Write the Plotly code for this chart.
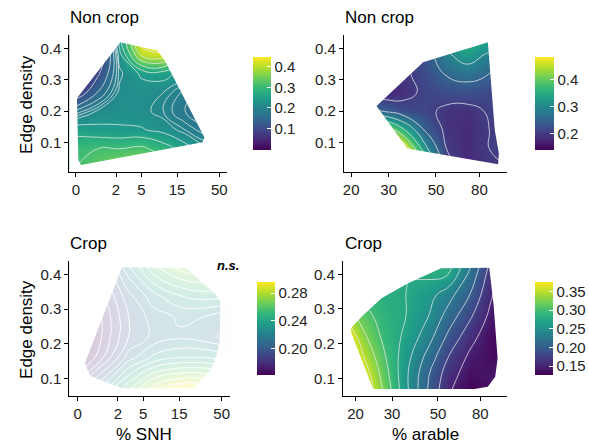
import numpy as np
import plotly.graph_objects as go

W, H = 589, 448

# ---------------- data ----------------
# Panel 1: Non crop ~ % SNH x Edge density
snh_x1 = [0, 0.8, 2.3, 5, 10, 19, 36]
ed_y1 = [0.02, 0.08, 0.14, 0.20, 0.26, 0.32, 0.38, 0.44]
z_nc_snh = [
    [0.31, 0.34, 0.37, 0.38, 0.33, 0.28, 0.24],
    [0.30, 0.31, 0.31, 0.32, 0.29, 0.25, 0.21],
    [0.255, 0.245, 0.24, 0.238, 0.225, 0.20, 0.18],
    [0.18, 0.212, 0.222, 0.218, 0.20, 0.175, 0.15],
    [0.07, 0.15, 0.215, 0.22, 0.21, 0.185, 0.165],
    [0.0, 0.10, 0.205, 0.24, 0.25, 0.22, 0.19],
    [0.0, 0.05, 0.22, 0.40, 0.42, 0.30, 0.23],
    [0.0, 0.03, 0.26, 0.47, 0.47, 0.35, 0.27],
]
hull_nc_snh_x = [2.38, 8.39, 10.47, 32.8, 31.3, 0.147, 0.068, 0.027]
hull_nc_snh_y = [0.420, 0.393, 0.361, 0.117, 0.101, 0.028, 0.044, 0.241]
levels_nc_snh = [0.11, 0.15, 0.175, 0.19, 0.20, 0.21, 0.235, 0.27, 0.31, 0.35, 0.39, 0.43]

# Panel 2: Non crop ~ % arable x Edge density
arable_x2 = [22, 28, 35, 45, 56, 70, 89, 110]
ed_y2 = [0.02, 0.08, 0.14, 0.20, 0.26, 0.32, 0.38, 0.44]
z_nc_arable = [
    [0.65, 0.62, 0.58, 0.40, 0.22, 0.18, 0.19, 0.20],
    [0.62, 0.57, 0.50, 0.31, 0.20, 0.18, 0.20, 0.21],
    [0.52, 0.46, 0.36, 0.24, 0.19, 0.18, 0.20, 0.21],
    [0.28, 0.25, 0.22, 0.21, 0.19, 0.185, 0.205, 0.21],
    [0.16, 0.17, 0.185, 0.21, 0.22, 0.225, 0.215, 0.20],
    [0.15, 0.17, 0.19, 0.22, 0.255, 0.27, 0.25, 0.21],
    [0.15, 0.16, 0.19, 0.23, 0.29, 0.33, 0.29, 0.23],
    [0.15, 0.15, 0.18, 0.25, 0.33, 0.38, 0.35, 0.29],
]
hull_nc_arable_x = [26.3, 43.5, 87.6, 94.4, 98.6, 97.9, 40.1, 36.6]
hull_nc_arable_y = [0.2165, 0.356, 0.420, 0.140, 0.0655, 0.031, 0.076, 0.0815]
levels_nc_arable = [0.20, 0.25, 0.30, 0.35, 0.40, 0.45]

# Panel 3: Crop ~ % SNH x Edge density (n.s.)
snh_x3 = [0, 1, 3, 7, 15, 32, 66]
ed_y3 = [0.04, 0.10, 0.16, 0.22, 0.28, 0.34, 0.40, 0.46]
z_c_snh = [
    [0.21, 0.24, 0.27, 0.30, 0.32, 0.32, 0.31],
    [0.18, 0.21, 0.245, 0.27, 0.28, 0.28, 0.27],
    [0.15, 0.18, 0.215, 0.233, 0.24, 0.24, 0.235],
    [0.14, 0.172, 0.20, 0.213, 0.218, 0.214, 0.205],
    [0.14, 0.172, 0.20, 0.215, 0.222, 0.22, 0.213],
    [0.145, 0.178, 0.207, 0.227, 0.24, 0.245, 0.24],
    [0.15, 0.188, 0.222, 0.25, 0.265, 0.27, 0.265],
    [0.16, 0.20, 0.24, 0.27, 0.29, 0.29, 0.28],
]
hull_c_snh_x = [2.34, 18.5, 43.9, 48.2, 47.3, 40.8, 37.2, 22.2, 2.31, 0.40, 0.22]
hull_c_snh_y = [0.4207, 0.4178, 0.339, 0.3216, 0.2015, 0.1486, 0.1245, 0.0717, 0.0717, 0.1082, 0.1438]
levels_c_snh = [0.17, 0.18, 0.19, 0.20, 0.21, 0.22, 0.23, 0.24, 0.25, 0.26, 0.27, 0.28, 0.29]

# Panel 4: Crop ~ % arable x Edge density
arable_x4 = [18, 22, 28, 35, 45, 56, 71, 89, 112]
ed_y4 = [0.04, 0.10, 0.16, 0.22, 0.28, 0.34, 0.40, 0.46]
z_c_arable = [
    [0.42, 0.38, 0.32, 0.26, 0.20, 0.15, 0.12, 0.13, 0.14],
    [0.42, 0.37, 0.31, 0.255, 0.20, 0.16, 0.135, 0.14, 0.15],
    [0.39, 0.35, 0.30, 0.26, 0.215, 0.175, 0.145, 0.135, 0.13],
    [0.38, 0.33, 0.29, 0.27, 0.235, 0.195, 0.16, 0.135, 0.12],
    [0.34, 0.31, 0.285, 0.275, 0.25, 0.215, 0.18, 0.145, 0.12],
    [0.30, 0.29, 0.28, 0.275, 0.26, 0.235, 0.20, 0.155, 0.12],
    [0.28, 0.28, 0.28, 0.275, 0.28, 0.275, 0.22, 0.165, 0.12],
    [0.27, 0.27, 0.275, 0.275, 0.29, 0.285, 0.24, 0.18, 0.13],
]
hull_c_arable_x = [18.99, 21.38, 26.67, 35.84, 51.8, 88.4, 92.8, 97.0, 94.5, 86.9, 74.9, 24.3, 19.1]
hull_c_arable_y = [0.2442, 0.2777, 0.3308, 0.374, 0.4173, 0.419, 0.3115, 0.1577, 0.1046, 0.0758, 0.0692, 0.0692, 0.2298]
levels_c_arable = [0.15, 0.175, 0.20, 0.225, 0.25, 0.275, 0.30, 0.325, 0.35]

snh_ticks = [0, 2, 5, 15, 50]
arable_ticks = [20, 30, 50, 80]
ed_ticks = [0.1, 0.2, 0.3, 0.4]

panel_titles = ["Non crop", "Non crop", "Crop", "Crop"]

# ---------------- figure ----------------
def px_x(p):
    return p / W

def px_y(p):
    return 1 - p / H

fig = go.Figure()
TICKFONT = dict(family="Liberation Sans, Arial, sans-serif", size=15, color="#222")

panels = [
    dict(xs=np.log1p(snh_x1), ys=ed_y1, z=z_nc_snh, zmin=-0.005, zmax=0.447, levels=levels_nc_snh,
         hx=np.log1p(hull_nc_snh_x), hy=hull_nc_snh_y, xr=[-0.181, 4.132], yr=[0.006, 0.443],
         xdom=[69.5, 227], ydom=[35, 172], cb=[253, 18, 57, 150],
         cbt=[0.1, 0.2, 0.3, 0.4], cbtext=["0.1", "0.2", "0.3", "0.4"],
         xt=np.log1p(snh_ticks), xtt=[str(v) for v in snh_ticks], op=1.0, lc="rgba(235,235,235,0.75)"),
    dict(xs=np.log10(arable_x2), ys=ed_y2, z=z_nc_arable, zmin=0.138, zmax=0.483, levels=levels_nc_arable,
         hx=np.log10(hull_nc_arable_x), hy=hull_nc_arable_y, xr=[1.2668, 2.033], yr=[0.006, 0.443],
         xdom=[344.5, 508], ydom=[35, 172], cb=[535, 19, 57, 150],
         cbt=[0.2, 0.3, 0.4], cbtext=["0.2", "0.3", "0.4"],
         xt=np.log10(arable_ticks), xtt=[str(v) for v in arable_ticks], op=1.0, lc="rgba(235,235,235,0.75)"),
    dict(xs=np.log1p(snh_x3), ys=ed_y3, z=z_c_snh, zmin=0.162, zmax=0.296, levels=levels_c_snh,
         hx=np.log1p(hull_c_snh_x), hy=hull_c_snh_y, xr=[-0.2255, 4.149], yr=[0.0496, 0.439],
         xdom=[69.5, 230], ydom=[261, 396], cb=[257, 18, 282, 375],
         cbt=[0.20, 0.24, 0.28], cbtext=["0.20", "0.24", "0.28"],
         xt=np.log1p(snh_ticks), xtt=[str(v) for v in snh_ticks], op=0.2, lc="rgba(255,255,255,0.95)"),
    dict(xs=np.log10(arable_x4), ys=ed_y4, z=z_c_arable, zmin=0.126, zmax=0.375, levels=levels_c_arable,
         hx=np.log10(hull_c_arable_x), hy=hull_c_arable_y, xr=[1.2400, 2.0329], yr=[0.049, 0.4384],
         xdom=[343.5, 508], ydom=[261, 396], cb=[535, 18, 282, 375],
         cbt=[0.15, 0.20, 0.25, 0.30, 0.35], cbtext=["0.15", "0.20", "0.25", "0.30", "0.35"],
         xt=np.log10(arable_ticks), xtt=[str(v) for v in arable_ticks], op=1.0, lc="rgba(235,235,235,0.75)"),
]

shapes = []
layout_axes = {}
for i, p in enumerate(panels, start=1):
    xa = "x" if i == 1 else f"x{i}"
    ya = "y" if i == 1 else f"y{i}"
    cbx, cbw, cbt0, cbt1 = p["cb"]
    fig.add_trace(go.Heatmap(
        x=p["xs"], y=p["ys"], z=p["z"], zsmooth="best", colorscale="Viridis",
        zmin=p["zmin"], zmax=p["zmax"], opacity=p["op"], xaxis=xa, yaxis=ya,
        hoverinfo="skip",
        colorbar=dict(x=px_x(cbx), xanchor="left", xpad=0, ypad=0,
                      y=px_y((cbt0 + cbt1) / 2), yanchor="middle",
                      len=cbt1 - cbt0, lenmode="pixels", thickness=cbw, thicknessmode="pixels",
                      outlinewidth=0, ticks="inside", ticklen=4, tickcolor="white", tickwidth=1,
                      tickvals=p["cbt"], ticktext=p["cbtext"], tickfont=TICKFONT),
    ))
    for lv in p["levels"]:
        fig.add_trace(go.Contour(
            x=p["xs"], y=p["ys"], z=p["z"], xaxis=xa, yaxis=ya, showscale=False,
            autocontour=False, contours=dict(start=lv, end=lv, size=1, coloring="none"),
            line=dict(color=p["lc"], width=1, smoothing=1.3), hoverinfo="skip",
        ))
    # mask outside the convex hull
    x0, x1 = p["xr"]
    y0, y1 = p["yr"]
    path = f"M{x0},{y0} L{x1},{y0} L{x1},{y1} L{x0},{y1} Z "
    path += "M" + " L".join(f"{hx},{hy}" for hx, hy in zip(p["hx"], p["hy"])) + " Z"
    shapes.append(dict(type="path", path=path, xref=xa, yref=ya, fillcolor="white",
                       line=dict(width=0), layer="above", fillrule="evenodd"))
    axname_x = "xaxis" if i == 1 else f"xaxis{i}"
    axname_y = "yaxis" if i == 1 else f"yaxis{i}"
    layout_axes[axname_x] = dict(
        domain=[px_x(p["xdom"][0]), px_x(p["xdom"][1])], range=p["xr"], anchor=ya,
        showline=True, linecolor="black", linewidth=1, ticks="outside", ticklen=4,
        tickcolor="black", tickvals=list(p["xt"]), ticktext=p["xtt"], showgrid=False,
        zeroline=False, tickfont=TICKFONT, fixedrange=True)
    layout_axes[axname_y] = dict(
        domain=[px_y(p["ydom"][1]), px_y(p["ydom"][0])], range=p["yr"], anchor=xa,
        showline=True, linecolor="black", linewidth=1, ticks="outside", ticklen=4,
        tickcolor="black", tickvals=ed_ticks, ticktext=[str(v) for v in ed_ticks],
        showgrid=False, zeroline=False, tickfont=TICKFONT, fixedrange=True)

TXT = dict(family="Liberation Sans, Arial, sans-serif", color="black")
annotations = []
for (x, y), t in zip([(68, 18), (344, 18), (68, 243), (344, 243)], panel_titles):
    annotations.append(dict(text=t, x=px_x(x), y=px_y(y), xref="paper", yref="paper",
                            xanchor="left", yanchor="middle", showarrow=False,
                            font=dict(size=17, **TXT)))
for y in [104, 329]:
    annotations.append(dict(text="Edge density", x=px_x(26), y=px_y(y), xref="paper", yref="paper",
                            xanchor="center", yanchor="middle", textangle=-90, showarrow=False,
                            font=dict(size=17, **TXT)))
annotations.append(dict(text="% SNH", x=px_x(144), y=px_y(434), xref="paper", yref="paper",
                        xanchor="center", yanchor="middle", showarrow=False, font=dict(size=17, **TXT)))
annotations.append(dict(text="% arable", x=px_x(426), y=px_y(434), xref="paper", yref="paper",
                        xanchor="center", yanchor="middle", showarrow=False, font=dict(size=17, **TXT)))
annotations.append(dict(text="<b><i>n.s.</i></b>", x=px_x(228), y=px_y(265), xref="paper", yref="paper",
                        xanchor="center", yanchor="middle", showarrow=False, font=dict(size=13, **TXT)))

fig.update_layout(
    width=W, height=H, margin=dict(l=0, r=0, t=0, b=0),
    paper_bgcolor="white", plot_bgcolor="white", showlegend=False,
    shapes=shapes, annotations=annotations, **layout_axes,
)

fig.write_html("out.html", config={"displayModeBar": False},
               post_script="document.body.style.margin='0';document.body.style.overflow='hidden';")
